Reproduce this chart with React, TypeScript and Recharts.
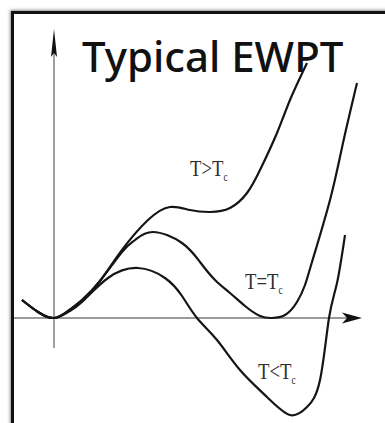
import { LineChart, Line, XAxis, YAxis, ReferenceLine, ReferenceDot } from 'recharts';

type Pt = { x: number; y: number };

// effective potential V(phi) for the three temperatures
const aboveTc: Pt[] = [
  { x: -3.2, y: 1.8 }, { x: -1.6, y: 0.6 }, { x: 0, y: 0 }, { x: 1.4, y: 0.7 },
  { x: 2.8, y: 1.8 }, { x: 4.6, y: 3.7 }, { x: 6.8, y: 6.8 }, { x: 9.4, y: 9.8 },
  { x: 11.6, y: 11.1 }, { x: 13.6, y: 10.8 }, { x: 15.6, y: 10.6 }, { x: 17.6, y: 11.0 },
  { x: 19.3, y: 12.5 }, { x: 20.6, y: 14.8 }, { x: 22.3, y: 18.5 }, { x: 23.6, y: 21.8 },
  { x: 25.3, y: 25.5 },
];

const atTc: Pt[] = [
  { x: -3.2, y: 1.8 }, { x: -1.6, y: 0.6 }, { x: 0, y: 0 }, { x: 1.4, y: 0.7 },
  { x: 2.8, y: 1.8 }, { x: 4.6, y: 3.7 }, { x: 6.8, y: 6.6 }, { x: 8.1, y: 7.8 },
  { x: 9.9, y: 8.6 }, { x: 12.8, y: 7.5 }, { x: 14.6, y: 5.6 }, { x: 16.1, y: 3.8 },
  { x: 17.6, y: 2.5 }, { x: 19.1, y: 1.2 }, { x: 20.6, y: 0.2 }, { x: 21.8, y: 0 },
  { x: 23.1, y: 0.3 }, { x: 24.3, y: 1.6 }, { x: 25.1, y: 3.3 }, { x: 25.8, y: 5.6 },
  { x: 27.6, y: 11.8 }, { x: 28.9, y: 17.5 }, { x: 30.3, y: 23.5 },
];

const belowTc: Pt[] = [
  { x: -3.2, y: 1.8 }, { x: -1.6, y: 0.6 }, { x: 0, y: 0 }, { x: 1.4, y: 0.6 },
  { x: 2.8, y: 1.6 }, { x: 5.4, y: 4.0 }, { x: 8.4, y: 5.0 }, { x: 11.1, y: 4.0 },
  { x: 12.8, y: 2.2 }, { x: 14.3, y: 0 }, { x: 16.3, y: -2.2 }, { x: 18.6, y: -5.2 },
  { x: 21.3, y: -7.9 }, { x: 23.6, y: -9.7 }, { x: 25.3, y: -8.9 }, { x: 26.6, y: -6.2 },
  { x: 27.5, y: 0 }, { x: 28.3, y: 3.5 }, { x: 29.1, y: 8.3 },
];

const labelRel = ['>', '=', '<'];
const labelX = [13.6, 19.1, 20.4];
const labelY = [14.2, 2.9, -6.1];

const series = [aboveTc, atTc, belowTc];

const arrowShape = (headLen: number, halfW: number, notch: number, color: string, width: number) =>
  (props: any) => {
    const { x1, y1, x2, y2 } = props;
    const len = Math.hypot(x2 - x1, y2 - y1) || 1;
    const ux = (x2 - x1) / len;
    const uy = (y2 - y1) / len;
    const bx = x2 - ux * headLen;
    const by = y2 - uy * headLen;
    const nx = x2 - ux * (headLen - notch);
    const ny = y2 - uy * (headLen - notch);
    const d = `M${x2},${y2} L${bx - uy * halfW},${by + ux * halfW} L${nx},${ny} L${bx + uy * halfW},${by - ux * halfW} Z`;
    return (
      <g>
        <line x1={x1} y1={y1} x2={nx} y2={ny} stroke={color} strokeWidth={width} />
        <path d={d} fill="#111" />
      </g>
    );
  };

const CurveLabel = ({ cx, cy, rel }: any) => (
  <g transform={`translate(${cx},${cy}) scale(0.78,1)`}>
    <text x={0} y={0} fontFamily="'Liberation Serif', 'Times New Roman', serif" fontSize={24} fill="#2e2e2e">
      T{rel}T
      <tspan fontSize={12} dy={5}>c</tspan>
    </text>
  </g>
);

export default function App() {
  return (
    <div style={{ position: 'absolute', left: 0, top: 0, width: 385, height: 423, overflow: 'hidden', background: '#fff' }}>
      <LineChart width={385} height={423} margin={{ top: 12, right: 13, bottom: 0, left: 12 }}>
        <XAxis type="number" dataKey="x" domain={[-4.2, 31.8]} hide allowDataOverflow />
        <YAxis type="number" dataKey="y" domain={[-10.5, 30.6]} hide allowDataOverflow />
        <ReferenceLine
          segment={[{ x: -4.2, y: 0 }, { x: 30.8, y: 0 }]}
          shape={arrowShape(20, 5.5, 5, '#9a9a9a', 2)}
        />
        <ReferenceLine
          segment={[{ x: 0, y: -3.0 }, { x: 0, y: 28.9 }]}
          shape={arrowShape(28, 3, 4, '#808080', 1.5)}
        />
        {series.map((data, i) => (
          <Line
            key={i}
            data={data}
            dataKey="y"
            type="natural"
            stroke="#151515"
            strokeWidth={2.2}
            dot={false}
            isAnimationActive={false}
          />
        ))}
        {labelRel.map((rel, i) => (
          <ReferenceDot
            key={rel}
            x={labelX[i]}
            y={labelY[i]}
            r={0}
            shape={(p: any) => <CurveLabel {...p} rel={rel} />}
          />
        ))}
      </LineChart>
      <div
        style={{
          position: 'absolute', left: 11, top: 11, width: 420, height: 440,
          borderLeft: '3px solid #111', borderTop: '3px solid #111',
          boxShadow: '-1px -1px 3px rgba(0,0,0,0.45)', pointerEvents: 'none',
        }}
      />
      <svg width={385} height={423} style={{ position: 'absolute', left: 0, top: 0, pointerEvents: 'none' }}>
        <text x={82} y={72} fontFamily="'Noto Sans', sans-serif" fontSize={42} fontWeight={500} fill="#111">
          Typical EWPT
        </text>
      </svg>
    </div>
  );
}
